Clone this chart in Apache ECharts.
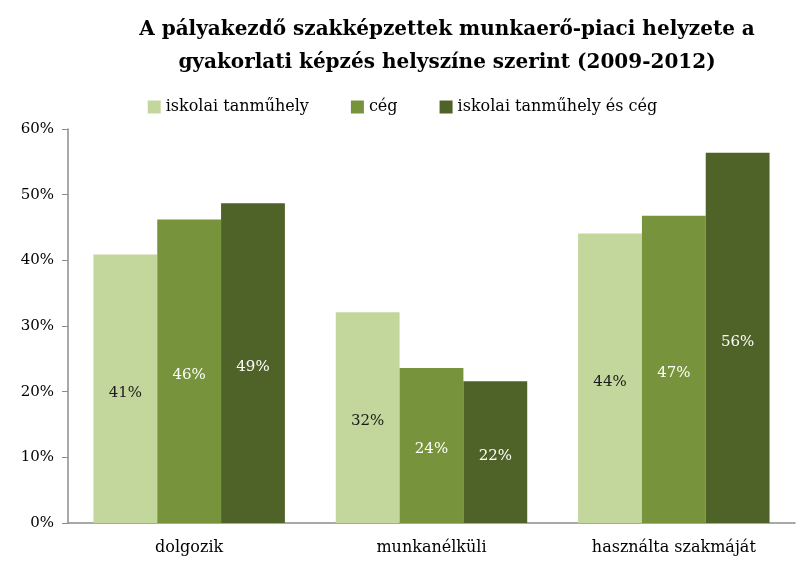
<!DOCTYPE html>
<html>
<head>
<meta charset="utf-8">
<script src="https://cdn.jsdelivr.net/npm/echarts@6/dist/echarts.min.js"></script>
<style>
    html, body { margin: 0; padding: 0; background: #fff; }
    #chart { width: 805px; height: 564px; }
</style>
</head>
<body>
<div id="chart"></div>
<script>
var categories = ['dolgozik', 'munkanélküli', 'használta szakmáját'];
var seriesNames = ['iskolai tanműhely', 'cég', 'iskolai tanműhely és cég'];
var iskolai = [40.9, 32.1, 44.1];
var ceg = [46.2, 23.6, 46.8];
var mindketto = [48.7, 21.6, 56.4];
var yTicks = [0, 10, 20, 30, 40, 50, 60];

var colors = ['#c3d69b', '#77933c', '#4f6228'];
var labelColors = ['#1a1a1a', '#ffffff', '#ffffff'];
var serif = '"DejaVu Serif", "Liberation Serif", serif';

var myChart = echarts.init(document.getElementById('chart'));

function makeSeries(i, values) {
    return {
        name: seriesNames[i],
        type: 'bar',
        barGap: 0,
        barCategoryGap: '21%',
        data: values,
        itemStyle: {color: colors[i]},
        label: {
            show: true,
            position: 'inside',
            offset: [0, 4],
            formatter: function (p) {
                return Math.round(p.value) + '%';
            },
            color: labelColors[i],
            fontFamily: serif,
            fontSize: 15
        }
    };
}

var option = {
    animation: false,
    backgroundColor: '#fff',
    title: {
        text: 'A pályakezdő szakképzettek munkaerő-piaci helyzete a\ngyakorlati képzés helyszíne szerint (2009-2012)',
        left: 442,
        top: 8,
        textAlign: 'center',
        textStyle: {
            fontFamily: serif,
            fontWeight: 'bold',
            fontSize: 20,
            lineHeight: 33,
            color: '#000'
        }
    },
    legend: {
        data: seriesNames,
        top: 94,
        left: 'center',
        itemWidth: 13,
        itemHeight: 13,
        itemGap: 42,
        icon: 'rect',
        textStyle: {fontFamily: serif, fontSize: 16, color: '#000'}
    },
    grid: {left: 68, right: 10, top: 129, bottom: 41, containLabel: false},
    xAxis: {
        type: 'category',
        data: categories,
        axisTick: {show: false},
        axisLine: {lineStyle: {color: '#8c8c8c', width: 1.5}},
        axisLabel: {fontFamily: serif, fontSize: 16, color: '#000', margin: 17}
    },
    yAxis: {
        type: 'value',
        min: yTicks[0],
        max: yTicks[yTicks.length - 1],
        interval: 10,
        splitLine: {show: false},
        axisLine: {show: true, lineStyle: {color: '#8c8c8c', width: 1.5}},
        axisTick: {show: true, length: 6, lineStyle: {color: '#8c8c8c'}},
        axisLabel: {fontFamily: serif, fontSize: 15, color: '#000', margin: 14, formatter: '{value}%'}
    },
    series: [
        makeSeries(0, iskolai),
        makeSeries(1, ceg),
        makeSeries(2, mindketto)
    ]
};
myChart.setOption(option);
</script>
</body>
</html>
